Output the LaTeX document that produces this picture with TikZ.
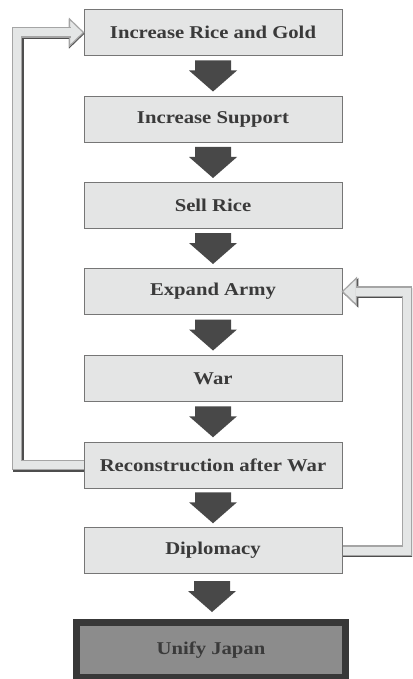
\documentclass[tikz,border=0pt]{standalone}
\usepackage{fontspec}
\newfontfamily\stagefont[FakeStretch=1.15]{Liberation Serif}
\usetikzlibrary{calc}
\definecolor{boxfill}{RGB}{228,229,229}
\definecolor{boxedge}{RGB}{118,118,118}
\definecolor{boxtext}{RGB}{58,58,58}
\definecolor{arrowfill}{RGB}{72,72,72}
\definecolor{loopfill}{RGB}{228,230,230}
\definecolor{loopedge}{RGB}{165,165,165}
\definecolor{loopshade}{RGB}{78,78,78}
\definecolor{goalfill}{RGB}{140,140,140}
\definecolor{goaledge}{RGB}{56,56,56}

\begin{document}
\begin{tikzpicture}[x=1pt,y=-1pt,
  stage/.style={draw=boxedge,line width=1pt,fill=boxfill,text=boxtext,
    minimum width=258,minimum height=46,inner sep=0,
    font=\stagefont\bfseries\fontsize{18}{20}\selectfont},
  goalbox/.style={stage,draw=goaledge,line width=7pt,fill=goalfill,
    minimum width=269,minimum height=55},
  loophead/.style={draw=loopedge,line width=1.2pt,fill=loopfill,line join=miter},
  loopband/.style={draw=loopedge,line width=1.2pt,double=loopfill,
    double distance=8pt,line join=miter},
  shadehead/.style={draw=loopshade,fill=loopshade,line width=1.2pt,line join=miter},
  shadeband/.style={draw=loopshade,line width=10.4pt,line join=miter}]

  % --- page: 412 x 679, y runs downwards ---
  \useasboundingbox (0,0) rectangle (412,679);
  \clip (0,0) rectangle (412,679);
  \def\cx{213}

  % --- the steps ---
  \node[stage] (inc)   at (\cx,32.5)  {Increase Rice and Gold};
  \node[stage] (sup)   at (\cx,119.5) {Increase Support};
  \node[stage] (sell)  at (\cx,205.5) {Sell Rice};
  \node[stage] (army)  at (\cx,291.5) {Expand Army};
  \node[stage] (war)   at (\cx,378.5) {War};
  \node[stage] (recon) at (\cx,465)   {Reconstruction after War};
  \node[stage] (dipl)  at (\cx,550.5) {Diplomacy};
  \node[goalbox] (goal) at (211,650)  {Unify Japan};

  % block arrows between the steps
  \foreach \a/\b in {inc/sup,sup/sell,sell/army,army/war,war/recon,recon/dipl,dipl/goal}{
    \coordinate (mid-\b) at ($(\a.south)!0.5!(\b.north)$);
    \fill[arrowfill] ($(mid-\b)+(-18,-15.5)$) -- ++(36,0) -- ++(0,10) -- ++(6,0)
      -- ($(mid-\b)+(0,15.5)$) -- ++(-24,-21) -- ++(6,0) -- cycle;
  }

  % --- loop shadows (offset down and right) ---
  \begin{scope}[transform canvas={shift={(1.3,1.3)}}]
    \filldraw[shadehead] ($(inc.west)+(-1.3,0)$) -- ++(-14,-13.5) -- ++(0,27) -- cycle;
    \draw[shadeband] ($(recon.west)+(-1.3,0)$) -- ++(-65.2,0) |- ($(inc.west)+(-13,0)$);
    \filldraw[shadehead] (army.east) -- ++(14,-13.5) -- ++(0,27) -- cycle;
    \draw[shadeband] ($(dipl.east)+(-1.3,0)$) -- ++(65.8,0) |- ($(army.east)+(13,0)$);
  \end{scope}

  % --- left loop: reconstruction back to rice and gold ---
  \filldraw[loophead] (inc.west) -- ++(-14,-13.5) -- ++(0,27) -- cycle;
  \draw[loopband] (recon.west) -- ++(-66.5,0) |- ($(inc.west)+(-13,0)$);

  % --- right loop: diplomacy back to the army ---
  \filldraw[loophead] (army.east) -- ++(14,-13.5) -- ++(0,27) -- cycle;
  \draw[loopband] (dipl.east) -- ++(64.5,0) |- ($(army.east)+(13,0)$);

\end{tikzpicture}
\end{document}
